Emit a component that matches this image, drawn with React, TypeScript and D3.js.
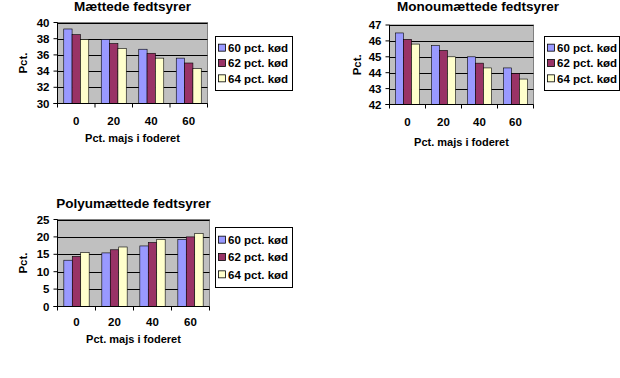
import React from "react";
import * as d3 from "d3";

const categories = ["0", "20", "40", "60"];
const seriesNames = ["60 pct. kød", "62 pct. kød", "64 pct. kød"];
const colors = ["#9999FF", "#993366", "#FFFFCC"];

const mattedeTitle = "Mættede fedtsyrer";
const matted60 = [39.2, 37.9, 36.7, 35.6];
const matted62 = [38.5, 37.4, 36.2, 35.0];
const matted64 = [37.9, 36.8, 35.6, 34.3];
const mattedTicks = [30, 32, 34, 36, 38, 40];

const monoTitle = "Monoumættede fedtsyrer";
const mono60 = [46.5, 45.7, 45.0, 44.3];
const mono62 = [46.1, 45.4, 44.6, 43.95];
const mono64 = [45.8, 45.0, 44.3, 43.6];
const monoTicks = [42, 43, 44, 45, 46, 47];

const polyTitle = "Polyumættede fedtsyrer";
const poly60 = [13.3, 15.4, 17.4, 19.3];
const poly62 = [14.4, 16.3, 18.4, 20.0];
const poly64 = [15.5, 17.1, 19.3, 21.0];
const polyTicks = [0, 5, 10, 15, 20, 25];

const yTitle = "Pct.";
const xTitle = "Pct. majs i foderet";

const FONT = "Arial, 'Liberation Sans', sans-serif";

type ChartProps = {
  title: string;
  series: number[][];
  ticks: number[];
  left: number;
  right: number;
  top: number;
  bottom: number;
  titleX?: number;
  titleY: number;
  xLabelY: number;
  xTitleY: number;
  yTitleX: number;
  legend: { x: number; y: number; w: number; h: number };
};

function Chart(p: ChartProps) {
  const y = d3
    .scaleLinear()
    .domain([p.ticks[0], p.ticks[p.ticks.length - 1]])
    .range([p.bottom, p.top]);
  const x0 = d3
    .scaleBand()
    .domain(categories)
    .range([p.left, p.right])
    .paddingInner(0)
    .paddingOuter(0);
  const bw = x0.bandwidth();
  const barW = bw / 4.5;
  const cx = (p.left + p.right) / 2;
  const rowH = (p.legend.h - 8) / 3;
  return (
    <g fontFamily={FONT} fontWeight="bold" fill="#000">
      <text x={p.titleX ?? cx} y={p.titleY} textAnchor="middle" fontSize={13.5}>
        {p.title}
      </text>
      <rect
        x={p.left}
        y={p.top}
        width={p.right - p.left}
        height={p.bottom - p.top}
        fill="#C0C0C0"
        stroke="#808080"
        strokeWidth={1}
      />
      {p.ticks.slice(1).map((t) => (
        <line
          key={t}
          x1={p.left}
          x2={p.right}
          y1={Math.round(y(t)) + 0.5}
          y2={Math.round(y(t)) + 0.5}
          stroke="#000"
          strokeWidth={1}
        />
      ))}
      {categories.map((c) =>
        p.series.map((s, i) => {
          const v = s[categories.indexOf(c)];
          const bx = (x0(c) as number) + barW * 0.75 + i * barW;
          return (
            <rect
              key={c + i}
              x={bx}
              y={y(v)}
              width={barW}
              height={p.bottom - y(v)}
              fill={colors[i]}
              stroke="#000"
              strokeWidth={0.6}
            />
          );
        })
      )}
      <line x1={p.left} x2={p.left} y1={p.top} y2={p.bottom} stroke="#000" />
      <line x1={p.left - 4} x2={p.right} y1={p.bottom} y2={p.bottom} stroke="#000" />
      {p.ticks.map((t) => (
        <g key={t}>
          <line x1={p.left - 4} x2={p.left} y1={y(t)} y2={y(t)} stroke="#000" />
          <text x={p.left - 8} y={y(t) + 4} textAnchor="end" fontSize={11.5}>
            {t}
          </text>
        </g>
      ))}
      {[...categories.map((c) => x0(c) as number), p.right].map((xv, i) => (
        <line key={i} x1={xv} x2={xv} y1={p.bottom} y2={p.bottom + 4} stroke="#000" />
      ))}
      {categories.map((c) => (
        <text
          key={c}
          x={(x0(c) as number) + bw / 2}
          y={p.xLabelY}
          textAnchor="middle"
          fontSize={11.5}
        >
          {c}
        </text>
      ))}
      <text x={cx} y={p.xTitleY} textAnchor="middle" fontSize={11}>
        {xTitle}
      </text>
      <text
        transform={`translate(${p.yTitleX},${(p.top + p.bottom) / 2}) rotate(-90)`}
        textAnchor="middle"
        fontSize={11.5}
      >
        {yTitle}
      </text>
      <rect
        x={p.legend.x + 0.5}
        y={p.legend.y + 0.5}
        width={p.legend.w}
        height={p.legend.h}
        fill="#fff"
        stroke="#000"
      />
      {seriesNames.map((n, i) => {
        const ry = p.legend.y + 4 + rowH * i + rowH / 2;
        return (
          <g key={n}>
            <rect
              x={p.legend.x + 3.5}
              y={ry - 3.5}
              width={7}
              height={7}
              fill={colors[i]}
              stroke="#000"
              strokeWidth={0.8}
            />
            <text x={p.legend.x + 13} y={ry + 4.2} fontSize={11.5}>
              {n}
            </text>
          </g>
        );
      })}
    </g>
  );
}

export default function App() {
  return (
    <svg
      width={620}
      height={378}
      style={{ position: "absolute", left: 0, top: 0, background: "#fff" }}
    >
      <rect width={620} height={378} fill="#fff" />
      <Chart
        title={mattedeTitle}
        series={[matted60, matted62, matted64]}
        ticks={mattedTicks}
        left={57.5}
        right={207.5}
        top={22.5}
        bottom={103.5}
        titleY={11}
        xLabelY={125}
        xTitleY={142}
        yTitleX={27}
        legend={{ x: 215, y: 36, w: 77, h: 54 }}
      />
      <Chart
        title={monoTitle}
        series={[mono60, mono62, mono64]}
        ticks={monoTicks}
        left={389.5}
        right={533.5}
        top={25}
        bottom={104.5}
        titleX={478}
        titleY={11}
        xLabelY={126}
        xTitleY={146}
        yTitleX={361}
        legend={{ x: 544, y: 36, w: 75, h: 54 }}
      />
      <Chart
        title={polyTitle}
        series={[poly60, poly62, poly64]}
        ticks={polyTicks}
        left={57.5}
        right={209.5}
        top={219.5}
        bottom={306.5}
        titleY={207.5}
        xLabelY={326}
        xTitleY={343}
        yTitleX={27}
        legend={{ x: 215, y: 227, w: 77, h: 60 }}
      />
    </svg>
  );
}
